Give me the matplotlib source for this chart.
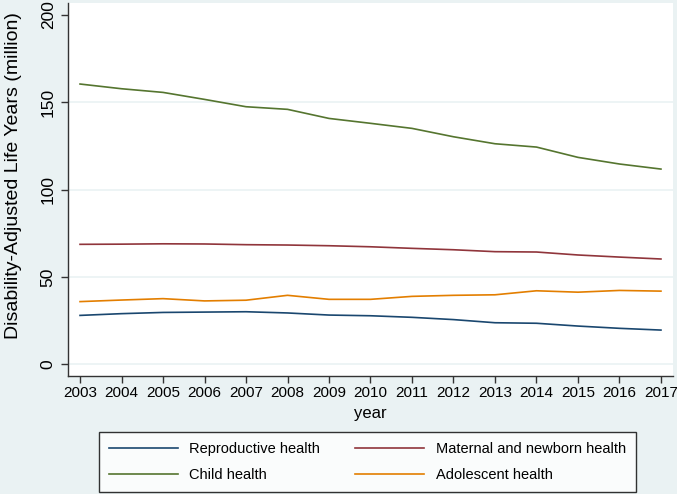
import matplotlib
matplotlib.use("Agg")
import matplotlib.pyplot as plt

plt.rcParams['font.family'] = ['Liberation Sans', 'DejaVu Sans']

years = list(range(2003, 2018))
reproductive = [28.0, 29.0, 29.7, 29.9, 30.1, 29.4, 28.2, 27.8, 26.9, 25.6, 23.8, 23.5, 21.9, 20.6, 19.6]
maternal = [68.7, 68.8, 69.0, 68.9, 68.5, 68.3, 67.9, 67.3, 66.4, 65.6, 64.5, 64.3, 62.6, 61.4, 60.3]
child = [160.5, 157.8, 155.7, 151.7, 147.5, 146.0, 140.8, 138.0, 135.1, 130.3, 126.3, 124.4, 118.5, 114.7, 111.8]
adolescent = [35.9, 36.8, 37.6, 36.3, 36.7, 39.5, 37.2, 37.2, 38.9, 39.5, 39.8, 42.1, 41.3, 42.3, 41.9]
labels = ["Reproductive health", "Maternal and newborn health", "Child health", "Adolescent health"]
colors = ["#1a476f", "#90353b", "#55752f", "#e37e00"]
yticks = [0, 50, 100, 150, 200]

bg = "#eaf2f3"
fig = plt.figure(figsize=(6.77, 4.94), dpi=100, facecolor=bg)
ax = fig.add_axes([68/677, 1-376/494, (673-68)/677, (376-3)/494])
ax.set_facecolor("white")

series = [reproductive, maternal, child, adolescent]
handles = []
for s, lab, c in zip(series, labels, colors):
    h, = ax.plot(years, s, color=c, lw=1.2, label=lab)
    handles.append(h)

ax.set_xlim(2002.71, 2017.29)
ax.set_ylim(-6.7, 206.9)
ax.set_xticks(years)
ax.set_yticks(yticks)
ax.set_yticklabels([str(v) for v in yticks], rotation=90, va='center')
for v in [0, 50, 100, 150]:
    ax.axhline(v, color=bg, lw=1.2, zorder=0)
for sp in ['top', 'right']:
    ax.spines[sp].set_visible(False)
for sp in ['left', 'bottom']:
    ax.spines[sp].set_color('#333333')
    ax.spines[sp].set_linewidth(1.0)
ax.tick_params(axis='both', direction='out', length=5, width=1.0, color='#333333')
ax.tick_params(axis='x', labelsize=11, pad=2.5)
ax.tick_params(axis='y', labelsize=12.5, pad=3.8)
ax.set_xlabel("year", fontsize=12, labelpad=4)
ax.set_ylabel("Disability-Adjusted Life Years (million)", fontsize=14)
ax.yaxis.set_label_coords(-0.0765, 0.537)

order = [0, 2, 1, 3]
leg = fig.legend([handles[i] for i in order], [labels[i] for i in order], ncol=2,
                 loc='lower left', bbox_to_anchor=(99/677, 1-492/494),
                 frameon=True, fancybox=False, fontsize=10.5,
                 handlelength=4.7, handletextpad=0.8, labelspacing=0.8,
                 columnspacing=2.4, borderpad=0.7, borderaxespad=0)
leg.get_frame().set_edgecolor('black')
leg.get_frame().set_linewidth(1.0)
leg.get_frame().set_facecolor('white')

fig.savefig("out.png", dpi=100, facecolor=bg)
